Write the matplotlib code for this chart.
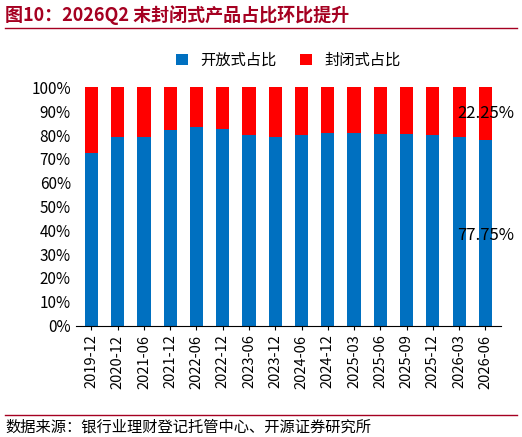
import matplotlib.pyplot as plt
from matplotlib.ticker import PercentFormatter

plt.rcParams['font.family'] = ['Noto Sans CJK SC', 'DejaVu Sans']

periods = ["2019-12", "2020-12", "2021-06", "2021-12", "2022-06", "2022-12",
           "2023-06", "2023-12", "2024-06", "2024-12", "2025-03", "2025-06",
           "2025-09", "2025-12", "2026-03", "2026-06"]
open_share = [72.5, 79.0, 79.0, 82.0, 83.5, 82.5, 80.0, 79.0,
              80.0, 81.0, 81.0, 80.5, 80.5, 80.0, 79.0, 77.75]
closed_share = [100 - v for v in open_share]

fig = plt.figure(figsize=(5.22, 4.37), dpi=100)
ax = fig.add_axes([0.145, 0.255, 0.815, 0.545])

x = range(len(periods))
ax.bar(x, open_share, width=0.5, color="#0070C0", label="开放式占比")
ax.bar(x, closed_share, width=0.5, bottom=open_share, color="#FF0000", label="封闭式占比")

ax.set_ylim(0, 100)
ax.set_yticks(range(0, 101, 10))
ax.yaxis.set_major_formatter(PercentFormatter(decimals=0))
ax.set_xlim(-0.6, len(periods) - 0.4)
ax.set_xticks(list(x))
ax.set_xticklabels(periods, rotation=90, fontsize=10.5)
ax.tick_params(axis="y", labelsize=11, length=0)
ax.tick_params(axis="x", length=3)
for s in ["top", "right", "left"]:
    ax.spines[s].set_visible(False)

last = len(periods) - 1
ax.text(last, open_share[-1] + closed_share[-1] / 2, f"{closed_share[-1]:.2f}%",
        ha="center", va="center", fontsize=12)
ax.text(last, 38, f"{open_share[-1]:.2f}%", ha="center", va="center", fontsize=12)

ax.legend(loc="lower center", bbox_to_anchor=(0.5, 1.02), ncol=2, frameon=False,
          fontsize=11, handlelength=0.8, handleheight=0.8, columnspacing=1.5)

fig.text(0.01, 0.965, "图10：2026Q2 末封闭式产品占比环比提升", fontsize=13,
         fontweight="bold", color="#A50021", va="center")
fig.add_artist(plt.Line2D([0.01, 0.99], [0.935, 0.935], color="#A50021", lw=1))
fig.add_artist(plt.Line2D([0.01, 0.99], [0.05, 0.05], color="#A50021", lw=1))
fig.text(0.01, 0.022, "数据来源：银行业理财登记托管中心、开源证券研究所", fontsize=11, va="center")

fig.savefig("out.png", dpi=100)
